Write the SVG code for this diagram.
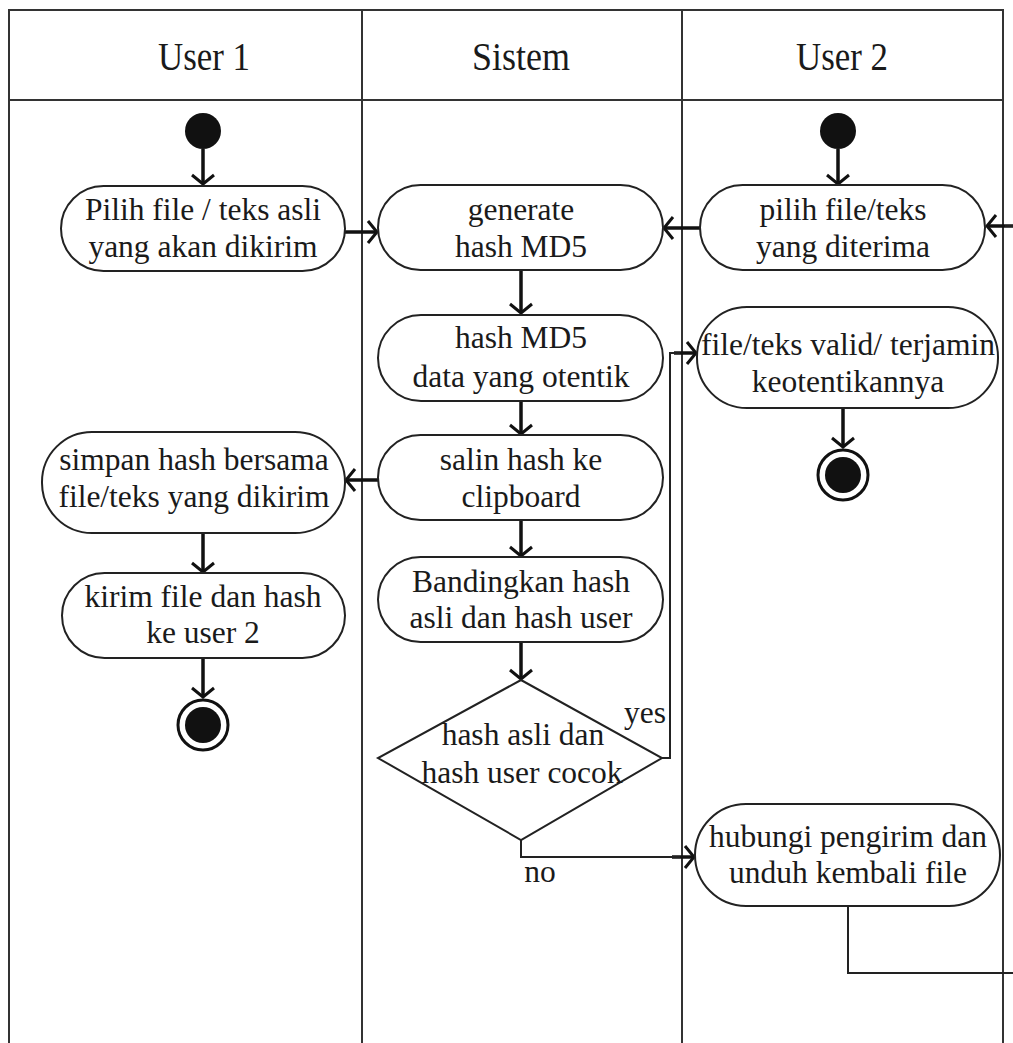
<svg xmlns="http://www.w3.org/2000/svg" width="1013" height="1043" viewBox="0 0 1013 1043">
<defs>
<marker id="arr" viewBox="-12 -14 14 28" refX="0" refY="0" markerWidth="14" markerHeight="28" orient="auto" markerUnits="userSpaceOnUse">
<path d="M-9,-11 L0,0 L-9,11" fill="none" stroke="#111" stroke-width="3"/>
</marker>
</defs>
<rect width="1013" height="1043" fill="#fff"/>
<g id="lanes">
<path fill="none" stroke="#333" stroke-width="2" d="M9,1043 V10 H1003 V1043 M9,100 H1003 M362,10 V1043 M682,10 V1043"/>
<g font-family="Liberation Serif" font-size="40" fill="#1a1a1a" text-anchor="middle">
<text x="204" y="70" textLength="92" lengthAdjust="spacingAndGlyphs">User 1</text>
<text x="521" y="70" textLength="98" lengthAdjust="spacingAndGlyphs">Sistem</text>
<text x="842" y="70" textLength="92" lengthAdjust="spacingAndGlyphs">User 2</text>
</g>
</g>
<g id="connectors">
<g fill="none" stroke="#111" stroke-width="3.5">
<path d="M203,149 V184" marker-end="url(#arr)"/>
<path d="M345,232 H377" marker-end="url(#arr)"/>
<path d="M838,149 V184" marker-end="url(#arr)"/>
<path d="M700,228 H664" marker-end="url(#arr)"/>
<path d="M521,270 V313" marker-end="url(#arr)"/>
<path d="M521,401 V434" marker-end="url(#arr)"/>
<path d="M378,480 H346" marker-end="url(#arr)"/>
<path d="M203,533 V572" marker-end="url(#arr)"/>
<path d="M203,658 V697" marker-end="url(#arr)"/>
<path d="M521,520 V556" marker-end="url(#arr)"/>
<path d="M521,642 V679" marker-end="url(#arr)"/>
<path d="M843,408 V447" marker-end="url(#arr)"/>
<path d="M674,353 H696" marker-end="url(#arr)"/>
<path d="M672,857 H694" marker-end="url(#arr)"/>
<path d="M1015,226 H987" marker-end="url(#arr)"/>
</g>
<g fill="none" stroke="#222" stroke-width="2">
<path d="M662,758 H670 V353 H680"/>
<path d="M521,840 V857 H680"/>
<path d="M848,906 V973 H1020 V226 H1005"/>
</g>
<g font-family="Liberation Serif" font-size="31.5" fill="#1a1a1a" text-anchor="middle">
<text x="645" y="723">yes</text>
<text x="540" y="882">no</text>
</g>
</g>
<g id="start1"><circle cx="203" cy="131" r="18" fill="#111"/></g>
<g id="start2"><circle cx="838" cy="131" r="18" fill="#111"/></g>
<g id="end1">
<circle cx="203" cy="725" r="25" fill="#fff" stroke="#111" stroke-width="3"/>
<circle cx="203" cy="725" r="18" fill="#111"/>
</g>
<g id="end2">
<circle cx="843" cy="475" r="25" fill="#fff" stroke="#111" stroke-width="3"/>
<circle cx="843" cy="475" r="18" fill="#111"/>
</g>
<g id="nodes" fill="#fff" stroke="#222" stroke-width="2">
<g id="pilih1"><rect x="61" y="186" width="284" height="85" rx="42.5"/></g>
<g id="generate"><rect x="378" y="185" width="285" height="85" rx="42.5"/></g>
<g id="pilih2"><rect x="700" y="185" width="285" height="85" rx="42.5"/></g>
<g id="hashdata"><rect x="378" y="315" width="285" height="86" rx="43"/></g>
<g id="valid"><rect x="697" y="307" width="301" height="101" rx="50"/></g>
<g id="salin"><rect x="378" y="435" width="285" height="85" rx="42.5"/></g>
<g id="simpan"><rect x="42" y="432" width="303" height="101" rx="50"/></g>
<g id="kirim"><rect x="62" y="573" width="283" height="85" rx="42.5"/></g>
<g id="bandingkan"><rect x="378" y="557" width="285" height="85" rx="42.5"/></g>
<g id="decision"><polygon points="521,680 662,758 521,840 378,758"/></g>
<g id="hubungi"><rect x="695" y="804" width="305" height="102" rx="51"/></g>
</g>
<g id="labels" font-family="Liberation Serif" font-size="31.5" fill="#1a1a1a" text-anchor="middle">
<text x="203" y="220">Pilih file / teks asli</text>
<text x="203" y="257">yang akan dikirim</text>
<text x="521" y="220">generate</text>
<text x="521" y="257">hash MD5</text>
<text x="843" y="220">pilih file/teks</text>
<text x="843" y="257">yang diterima</text>
<text x="521" y="348">hash MD5</text>
<text x="521" y="387">data yang otentik</text>
<text x="848" y="355">file/teks valid/ terjamin</text>
<text x="848" y="392">keotentikannya</text>
<text x="521" y="470">salin hash ke</text>
<text x="521" y="507">clipboard</text>
<text x="194" y="470">simpan hash bersama</text>
<text x="194" y="507">file/teks yang dikirim</text>
<text x="203" y="607">kirim file dan hash</text>
<text x="203" y="643">ke user 2</text>
<text x="521" y="592">Bandingkan hash</text>
<text x="521" y="628">asli dan hash user</text>
<text x="523" y="745">hash asli dan</text>
<text x="522" y="783">hash user cocok</text>
<text x="848" y="847">hubungi pengirim dan</text>
<text x="848" y="883">unduh kembali file</text>
</g>
</svg>
